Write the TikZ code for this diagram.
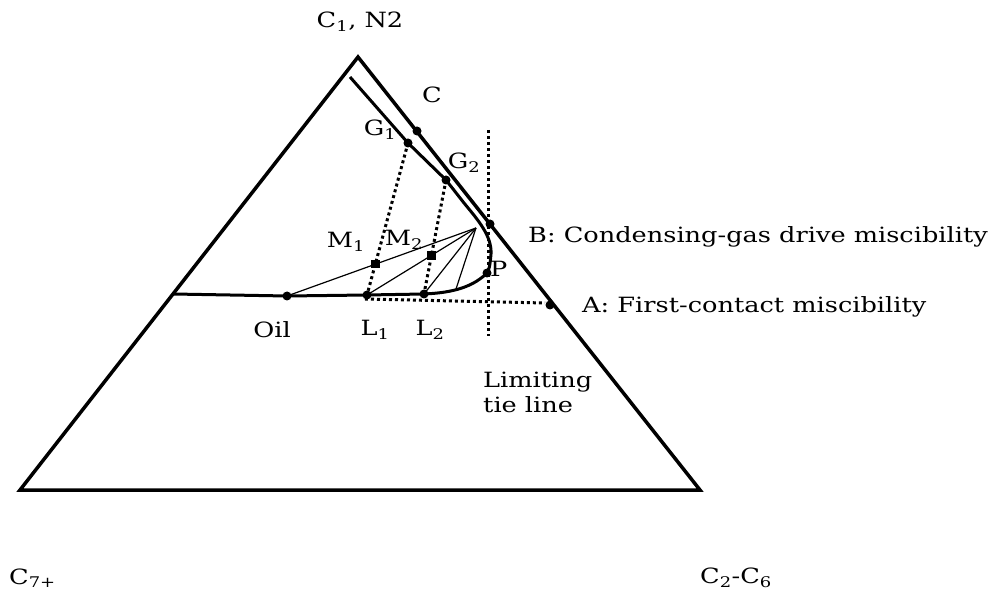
\documentclass[tikz,border=0pt]{standalone}
\usepackage{fontspec}
\setmainfont{DejaVu Serif}[FakeStretch=1.22]
\usetikzlibrary{positioning}
\tikzstyle{phase} = [
    line width=3.5pt,
    line join=miter
]
\tikzstyle{binodal} = [
    line width=3pt
]
\tikzstyle{tieline} = [
    line width=1.2pt
]
\tikzstyle{dotline} = [
    line width=3pt,
    dash pattern=on 3pt off 3pt
]
\tikzstyle{dot} = [
    circle,
    fill=black,
    inner sep=0pt,
    minimum size=9pt
]
\tikzstyle{sqdot} = [
    rectangle,
    fill=black,
    inner sep=0pt,
    minimum size=8.5pt
]
\tikzstyle{label} = [
    inner sep=0pt,
    font=\fontsize{21}{25}\selectfont
]
\begin{document}
\begin{tikzpicture}[x=1pt, y=-1pt]
\useasboundingbox (0,0) rectangle (1005,596);

\coordinate (top) at (358,57);
\coordinate (bl) at (20,490);
\coordinate (br) at (700,490);

\coordinate (start) at (350,77);
\coordinate (G1) at (408,143);
\coordinate (G2) at (446,180);
\coordinate (F) at (476,228);
\coordinate (P) at (487,273);
\coordinate (T4) at (456,289);
\coordinate (L2) at (424,294);
\coordinate (L1) at (367,295);
\coordinate (Oil) at (287,296);
\coordinate (left) at (173,294);
\coordinate (C) at (417,131);
\coordinate (B) at (490,224);
\coordinate (A) at (550,305);
\coordinate (M1) at (intersection of G1--L1 and F--Oil);
\coordinate (M2) at (intersection of G2--L2 and F--L1);
\coordinate (vtop) at (488,130);
\coordinate (vbot) at (488,336);
\coordinate (hleft) at (365,299);
\coordinate (hright) at (545,303);

\draw [phase] (bl) -- (top) -- (br) -- cycle;

\draw [binodal] (start) -- (G1) -- (G2) -- (464,203)
    .. controls (478,220) and (492,236) .. (491,254)
    .. controls (490,266) and (489,270) .. (P)
    .. controls (470,290) and (445,293) .. (L2)
    -- (L1) -- (Oil) -- (left);

\draw [tieline] (F) -- (Oil);
\draw [tieline] (F) -- (L1);
\draw [tieline] (F) -- (L2);
\draw [tieline] (F) -- (T4);

\draw [dotline] (G1) -- (L1);
\draw [dotline] (G2) -- (L2);
\draw [dotline] (vtop) -- (vbot);
\draw [dotline] (hleft) -- (hright);

\node [dot] at (C) {};
\node [dot] at (G1) {};
\node [dot] at (G2) {};
\node [dot] at (B) {};
\node [dot] at (P) {};
\node [dot] at (A) {};
\node [dot] at (Oil) {};
\node [dot] at (L1) {};
\node [dot] at (L2) {};
\node [sqdot] at (M1) {};
\node [sqdot] at (M2) {};

\node (ltop) [label] at (360,22) {C\textsubscript{1}, N2};
\node (lC) [label] at (432,95) {C};
\node (lG1) [label] at (380,130) {G\textsubscript{1}};
\node (lG2) [label] at (464,163) {G\textsubscript{2}};
\node (lM1) [label] at (346,242) {M\textsubscript{1}};
\node (lM2) [label] at (404,240) {M\textsubscript{2}};
\node (lP) [label, anchor=west] at (490,269) {P};
\node (lB) [label, anchor=west] at (528,237) {B: Condensing-gas drive miscibility};
\node (lA) [label, anchor=west] at (582,307) {A: First-contact miscibility};
\node (lOil) [label] at (272,330) {Oil};
\node (lL1) [label] at (375,330) {L\textsubscript{1}};
\node (lL2) [label] at (430,330) {L\textsubscript{2}};
\node (llim) [label, anchor=west, align=left] at (483,392) {Limiting\\tie line};
\node (lC7) [label, anchor=west] at (9,578) {C\textsubscript{7+}};
\node (lC2) [label, anchor=west] at (700,578) {C\textsubscript{2}-C\textsubscript{6}};

\end{tikzpicture}
\end{document}
